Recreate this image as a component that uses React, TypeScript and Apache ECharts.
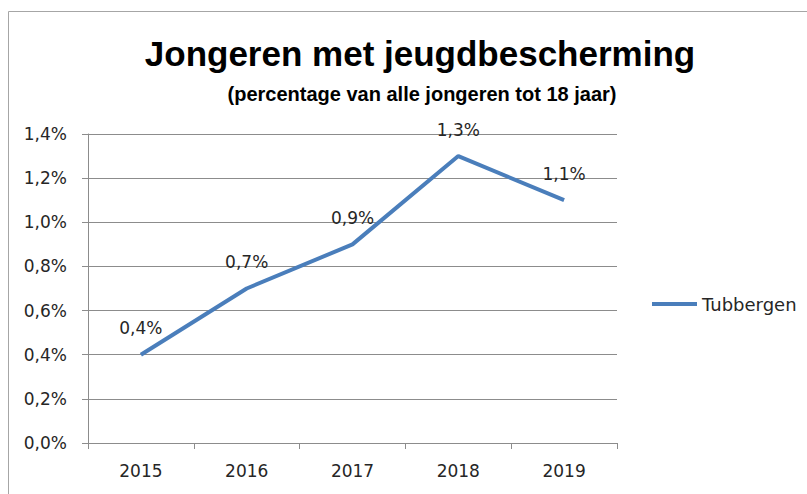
import React, { useEffect, useRef } from "react";
import * as echarts from "echarts";

const years = ["2015", "2016", "2017", "2018", "2019"];
const seriesName = "Tubbergen";
const values = [0.4, 0.7, 0.9, 1.3, 1.1];
const titleText = "Jongeren met jeugdbescherming";
const subtitleText = "(percentage van alle jongeren tot 18 jaar)";

const fmt = (v: number) => v.toFixed(1).replace(".", ",") + "%";

export default function App() {
  const ref = useRef<HTMLDivElement>(null);
  useEffect(() => {
    if (!ref.current) return;
    const chart = echarts.init(ref.current, null, { renderer: "svg" });
    const smallFont = "DejaVu Sans";
    chart.setOption({
      animation: false,
      backgroundColor: "#ffffff",
      title: [
        {
          text: titleText,
          left: 415,
          top: 31,
          textAlign: "center",
          textStyle: { fontFamily: "Liberation Sans", fontWeight: "bold", fontSize: 35, color: "#000" },
        },
        {
          text: subtitleText,
          left: 417,
          top: 79,
          textAlign: "center",
          textStyle: { fontFamily: "Liberation Sans", fontWeight: "bold", fontSize: 20, color: "#000" },
        },
      ],
      graphic: [
        { type: "line", shape: { x1: 8.5, y1: 11.5, x2: 807, y2: 11.5 }, style: { stroke: "#a6a6a6", lineWidth: 1 } },
        { type: "line", shape: { x1: 8.5, y1: 11.5, x2: 8.5, y2: 494 }, style: { stroke: "#a6a6a6", lineWidth: 1 } },
      ],
      legend: {
        left: 652,
        top: 295,
        padding: 0,
        icon: "rect",
        itemWidth: 45,
        itemHeight: 4,
        data: [seriesName],
        textStyle: { fontFamily: smallFont, fontSize: 18, color: "#262626" },
      },
      grid: { left: 88, right: 190, top: 134, bottom: 51, containLabel: false },
      xAxis: {
        type: "category",
        data: years,
        boundaryGap: true,
        axisLine: { show: true, lineStyle: { color: "#8c8c8c", width: 1 } },
        axisTick: { show: true, length: 6, alignWithLabel: false, lineStyle: { color: "#8c8c8c" } },
        axisLabel: { fontFamily: smallFont, fontSize: 17, color: "#262626", margin: 19 },
      },
      yAxis: {
        type: "value",
        min: 0,
        max: 1.4,
        interval: 0.2,
        axisLine: { show: true, lineStyle: { color: "#8c8c8c", width: 1 } },
        axisTick: { show: true, length: 6, lineStyle: { color: "#8c8c8c" } },
        splitLine: { show: true, lineStyle: { color: "#8c8c8c", width: 1 } },
        axisLabel: { fontFamily: smallFont, fontSize: 17, color: "#262626", margin: 21, formatter: (v: number) => fmt(v) },
      },
      series: [
        {
          name: seriesName,
          type: "line",
          data: values,
          showSymbol: true,
          symbol: "circle",
          symbolSize: 0,
          lineStyle: { color: "#4a7ebb", width: 4 },
          itemStyle: { color: "#4a7ebb" },
          label: {
            show: true,
            position: "top",
            distance: 18,
            fontFamily: smallFont,
            fontSize: 17,
            color: "#262626",
            formatter: (p: any) => fmt(p.value),
          },
        },
      ],
    });
    return () => chart.dispose();
  }, []);
  return <div ref={ref} style={{ position: "fixed", left: 0, top: 0, width: 807, height: 494 }} />;
}
